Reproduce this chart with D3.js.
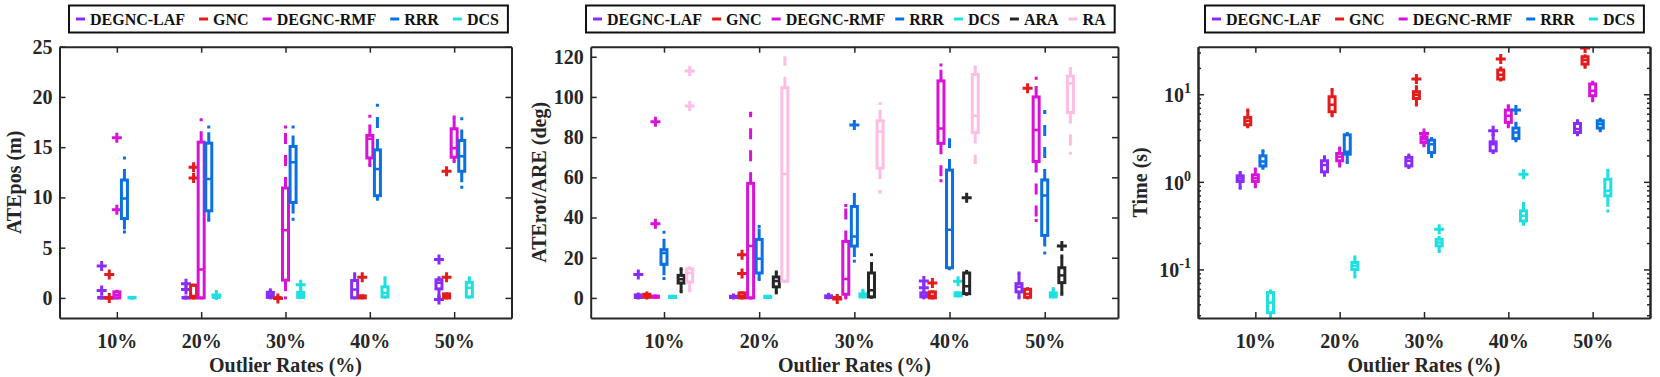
<!DOCTYPE html>
<html>
<head>
<meta charset="utf-8">
<script src="https://cdn.jsdelivr.net/npm/d3@7"></script>
<style>
  body { margin: 0; background: #fff; }
  svg { font-family: 'Liberation Serif', 'Times New Roman', serif; font-weight: bold; }
</style>
</head>
<body>
<svg id="fig" width="1660" height="377"></svg>
<script>
const rates = ['10%', '20%', '30%', '40%', '50%'];
const methods = ['DEGNC-LAF', 'GNC', 'DEGNC-RMF', 'RRR', 'DCS', 'ARA', 'RA'];

// box stats for each rate: [lower whisker, q1, median, q3, upper whisker]
// ATEpos (m)
const posLAF = [[0, 0, 0, 0.05, 0.1], [0, 0, 0, 0.05, 0.1], [0, 0.05, 0.3, 0.55, 0.8], [0, 0, 0.83, 1.73, 2.4], [0.05, 0.9, 1.5, 1.8, 2.0]];
const posGNC = [[0, 0, 0, 0.02, 0.05], [0, 0, 0.2, 1.27, 1.27], [0, 0, 0, 0.02, 0.05], [0, 0, 0.05, 0.2, 0.2], [0, 0, 0.2, 0.4, 0.4]];
const posRMF = [[0, 0, 0.3, 0.6, 0.67], [0, 0, 2.83, 15.5, 17.73], [0, 1.77, 6.73, 10.93, 17.0], [13.17, 13.93, 15.83, 16.17, 18.07], [13.57, 14, 14.9, 16.83, 18]];
const posRRR = [[6.57, 7.9, 9.9, 11.73, 13.93], [7.73, 8.67, 11.83, 15.4, 17.0], [7.83, 9.5, 13.5, 15.07, 17.0], [9.83, 10.17, 12.83, 14.73, 19.17], [11, 12.6, 14.1, 15.67, 17.83]];
const posDCS = [[0, 0, 0, 0.05, 0.05], [0, 0.05, 0.1, 0.2, 0.2], [0.05, 0.05, 0.3, 0.55, 1.0], [0.06, 0.1, 0.5, 1.1, 2.0], [0.06, 0.1, 1.0, 1.55, 2.0]];
const posLAFOut = [[3.17, 0.73], [1.4, 0.83], [], [], [3.83, -0.15]];
const posGNCOut = [[2.33, 0], [13.0, 11.93], [-0.05], [2.05], [2.05, 12.6]];
const posRMFOut = [[15.93, 8.77], [], [], [], []];
const posRRROut = [[], [], [], [], []];
const posDCSOut = [[], [0.3], [1.3], [], []];

// ATErot/ARE (deg)
const rotLAF = [[0, 0.2, 0.8, 1.5, 2], [0, 0.2, 0.5, 0.8, 1.5], [0, 0.2, 0.6, 1, 1.8], [0, 0.5, 1.2, 2.5, 3], [0, 3, 5.5, 7.1, 12.4]];
const rotGNC = [[0, 0.3, 1, 1.8, 2.5], [0, 0, 0.8, 2.5, 2.5], [0, 0, 0.1, 0.2, 0.3], [0, 0, 1, 3, 3], [0, 0.3, 2, 4.3, 4.6]];
const rotRMF = [[0.3, 0.3, 0.5, 0.9, 0.9], [0, 0, 25.8, 57, 91.9], [0, 1.8, 9.4, 28.1, 46], [58.3, 76.9, 84.3, 108, 115.9], [38.5, 67.9, 83.5, 100, 109.3]];
const rotRRR = [[9.6, 16.7, 22.3, 24, 32.7], [9.1, 12.4, 19.5, 29.1, 35.5], [18.3, 25.8, 30.6, 45.5, 51.4], [14.5, 15, 33.9, 63.6, 78.7], [22.3, 31.1, 50.9, 58.7, 92.7]];
const rotDCS = [[0.2, 0.2, 0.5, 0.8, 0.8], [0.2, 0.2, 0.5, 0.8, 0.8], [0.5, 0.5, 1.2, 2, 3.8], [1, 1, 1.5, 2.5, 2.5], [0.5, 0.5, 1.5, 2.5, 4.6]];
const rotARA = [[3, 7.4, 9.3, 11.2, 14.5], [2.5, 5.5, 8.4, 10.4, 12.9], [0.3, 0.5, 3.8, 12.4, 21.5], [1.8, 2.1, 5.8, 12.4, 13.2], [1.8, 7.6, 11.2, 15, 20.8]];
const rotRA = [[3.5, 7.9, 12.4, 14.5, 15], [8.3, 8.3, 61.7, 104.6, 119.5], [52.6, 64.6, 82.8, 88.1, 96.7], [67.4, 82.3, 90.6, 111.2, 114.9], [72, 92.2, 106.8, 110.4, 114.2]];
const rotLAFOut = [[11.7], [], [], [5.1, 8.4], []];
const rotGNCOut = [[], [12.1, 21.5], [-0.5], [7.4], [104.3]];
const rotRMFOut = [[87.6, 36.9], [], [], [], []];
const rotRRROut = [[], [], [86], [], []];
const rotDCSOut = [[], [], [], [8.3], []];
const rotARAOut = [[], [], [], [49.8], [25.8]];
const rotRAOut = [[95.5, 112.9], [], [], [], []];

// Time (s)
const timeLAF = [[0.846, 1.01, 1.09, 1.17, 1.28], [1.19, 1.30, 1.56, 1.74, 1.93], [1.46, 1.52, 1.74, 1.90, 2.03], [2.16, 2.26, 2.69, 2.86, 3.5], [3.44, 3.66, 4.0, 4.64, 4.98]];
const timeGNC = [[4.25, 4.48, 4.98, 5.44, 6.59], [5.68, 6.31, 7.59, 9.36, 11.3], [7.52, 8.96, 9.87, 10.7, 12.2], [14.5, 14.9, 16.7, 18.9, 19.9], [20.3, 22.1, 24.6, 26.8, 27.5]];
const timeRMF = [[0.877, 1.01, 1.10, 1.20, 1.40], [1.52, 1.74, 1.93, 2.11, 2.43], [2.58, 2.82, 3.07, 3.27, 3.35], [4.25, 4.77, 5.68, 6.59, 7.39], [8.43, 9.61, 10.96, 13.1, 13.7]];
const timeRRR = [[1.43, 1.52, 1.71, 1.98, 2.26], [1.66, 2.07, 2.2, 3.44, 3.57], [1.95, 2.16, 2.69, 2.99, 3.13], [2.94, 3.13, 3.66, 4.11, 4.68], [3.83, 4.11, 4.56, 4.98, 5.2]];
const timeDCS = [[0.0258, 0.0321, 0.0418, 0.0544, 0.0568], [0.082, 0.1, 0.11, 0.12, 0.139], [0.16, 0.186, 0.203, 0.221, 0.231], [0.328, 0.358, 0.409, 0.466, 0.565], [0.466, 0.692, 0.789, 1.07, 1.36]];
const timeLAFOut = [[], [], [], [3.83], []];
const timeGNCOut = [[], [], [14.9], [25.2], [33.7]];
const timeRMFOut = [[], [], [3.57], [], []];
const timeRRROut = [[], [], [], [6.59], []];
const timeDCSOut = [[], [], [0.288], [1.22], []];

const posTicks = [0, 5, 10, 15, 20, 25];
const rotTicks = [0, 20, 40, 60, 80, 100, 120];
const timeTicks = [0.1, 1, 10];
const timeTickLabels = ['-1', '0', '1'];

const colors = ['#8a2cf7', '#e31b1b', '#d912d9', '#0b70e2', '#1ee0e0', '#262626', '#ffbde4'];
const ink = '#262626';

const svg = d3.select('#fig');

function styleAxis(sel) {
    sel.select('.domain').attr('stroke', ink).attr('stroke-width', 2);
    sel.selectAll('.tick line').attr('stroke', ink).attr('stroke-width', 1.5);
    sel.selectAll('.tick text').attr('fill', ink).attr('font-size', 20)
        .attr('font-family', "'Liberation Serif', 'Times New Roman', serif").attr('font-weight', 'bold');
    sel.attr('font-family', null).attr('font-size', null);
}

function drawPanel(p) {
    let g = svg.append('g');
    let x = d3.scaleLinear().domain(p.xDomain).range([p.left, p.right]);
    let y = (p.log ? d3.scaleLog() : d3.scaleLinear()).domain(p.yDomain).range([p.bottom, p.top]);
    let n = p.series.length;
    let offsets = d3.range(n).map(i => (i - (n - 1) / 2) * 0.09);

    g.append('clipPath').attr('id', p.id + '-clip')
        .append('rect')
        .attr('x', p.left).attr('y', p.top)
        .attr('width', p.right - p.left).attr('height', p.bottom - p.top);

    let plot = g.append('g').attr('clip-path', `url(#${p.id}-clip)`);
    let bw = 6;

    p.series.forEach((stats, i) => {
        let col = colors[i];
        let sg = plot.append('g');
        stats.forEach((s, j) => {
            let cx = x(j + 1 + offsets[i]);
            let [lo, q1, med, q3, hi] = s;
            // whiskers
            if (hi > q3) {
                sg.append('line')
                    .attr('x1', cx).attr('x2', cx)
                    .attr('y1', y(q3)).attr('y2', y(hi))
                    .attr('stroke', col).attr('stroke-width', 3)
                    .attr('stroke-dasharray', '11,11');
            }
            if (lo < q1) {
                sg.append('line')
                    .attr('x1', cx).attr('x2', cx)
                    .attr('y1', y(q1)).attr('y2', y(lo))
                    .attr('stroke', col).attr('stroke-width', 3)
                    .attr('stroke-dasharray', '11,11');
            }
            [lo, hi].forEach(v => {
                sg.append('line')
                    .attr('x1', cx - 1.5).attr('x2', cx + 1.5)
                    .attr('y1', y(v)).attr('y2', y(v))
                    .attr('stroke', col).attr('stroke-width', 3);
            });
            sg.append('rect')
                .attr('x', cx - bw / 2).attr('y', y(q3))
                .attr('width', bw).attr('height', Math.max(0, y(q1) - y(q3)))
                .attr('fill', 'none').attr('stroke', col).attr('stroke-width', 3);
            sg.append('line')
                .attr('x1', cx - bw / 2).attr('x2', cx + bw / 2)
                .attr('y1', y(med)).attr('y2', y(med))
                .attr('stroke', col).attr('stroke-width', 2.5);
            // outliers
            p.outliers[i][j].forEach(v => {
                let py = y(v);
                sg.append('path')
                    .attr('d', `M${cx - 5},${py}H${cx + 5}M${cx},${py - 5}V${py + 5}`)
                    .attr('stroke', col).attr('stroke-width', 3).attr('fill', 'none');
            });
        });
    });

    // axes (ticks inward on all four sides)
    let xb = g.append('g').attr('transform', `translate(0,${p.bottom})`)
        .call(d3.axisBottom(x).tickValues([1, 2, 3, 4, 5]).tickSizeInner(-6).tickSizeOuter(0)
            .tickPadding(16).tickFormat((d, i) => rates[i]));
    styleAxis(xb);
    let xt = g.append('g').attr('transform', `translate(0,${p.top})`)
        .call(d3.axisTop(x).tickValues([1, 2, 3, 4, 5]).tickSizeInner(-6).tickSizeOuter(0).tickFormat(''));
    styleAxis(xt);

    let yl = g.append('g').attr('transform', `translate(${p.left},0)`)
        .call(d3.axisLeft(y).tickValues(p.yTicks).tickSizeInner(-6).tickSizeOuter(0).tickPadding(7)
            .tickFormat(p.log ? '' : d3.format('d')));
    styleAxis(yl);
    let yr = g.append('g').attr('transform', `translate(${p.right},0)`)
        .call(d3.axisRight(y).tickValues(p.yTicks).tickSizeInner(-6).tickSizeOuter(0).tickFormat(''));
    styleAxis(yr);

    if (p.log) {
        let minor = [];
        [0.01, 0.1, 1, 10].forEach(d => {
            for (let k = 2; k <= 9; k++) {
                let v = d * k;
                if (v > p.yDomain[0] && v < p.yDomain[1]) minor.push(v);
            }
        });
        let ml = g.append('g').attr('transform', `translate(${p.left},0)`)
            .call(d3.axisLeft(y).tickValues(minor).tickSizeInner(-3).tickSizeOuter(0).tickFormat(''));
        styleAxis(ml);
        let mr = g.append('g').attr('transform', `translate(${p.right},0)`)
            .call(d3.axisRight(y).tickValues(minor).tickSizeInner(-3).tickSizeOuter(0).tickFormat(''));
        styleAxis(mr);

        p.yTicks.forEach((v, i) => {
            let t = g.append('text')
                .attr('x', p.left - 7).attr('y', y(v) + 8)
                .attr('text-anchor', 'end').attr('fill', ink).attr('font-size', 20);
            t.append('tspan').text('10');
            t.append('tspan').attr('dy', -9).attr('font-size', 14).text(timeTickLabels[i]);
        });
    }

    // axis labels
    g.append('text')
        .attr('x', (p.left + p.right) / 2).attr('y', 372)
        .attr('text-anchor', 'middle').attr('fill', ink).attr('font-size', 20)
        .text('Outlier Rates (%)');
    g.append('text')
        .attr('transform', `translate(${p.labelX},${(p.top + p.bottom) / 2}) rotate(-90)`)
        .attr('text-anchor', 'middle').attr('dy', '0.35em')
        .attr('fill', ink).attr('font-size', 20)
        .text(p.yLabel);

    // legend
    let lg = g.append('g');
    let box = lg.append('rect')
        .attr('y', 5.5).attr('height', 27)
        .attr('fill', '#fff').attr('stroke', '#111').attr('stroke-width', 2);
    let cur = p.legendLeft + 7;
    p.series.forEach((s, i) => {
        lg.append('line')
            .attr('x1', cur).attr('x2', cur + 9)
            .attr('y1', 19).attr('y2', 19)
            .attr('stroke', colors[i]).attr('stroke-width', 3);
        let t = lg.append('text')
            .attr('x', cur + 14).attr('y', 24.5)
            .attr('fill', '#111').attr('font-size', 16)
            .text(methods[i]);
        cur += 14 + t.node().getComputedTextLength();
        if (i < n - 1) cur += p.legendGap;
    });
    box.attr('x', p.legendLeft).attr('width', cur + 9 - p.legendLeft);
}

drawPanel({
    id: 'pos', left: 59.5, right: 511.5, top: 46.7, bottom: 318,
    xDomain: [0.32, 5.68], yDomain: [-2, 25], yTicks: posTicks, log: false,
    series: [posLAF, posGNC, posRMF, posRRR, posDCS],
    outliers: [posLAFOut, posGNCOut, posRMFOut, posRRROut, posDCSOut],
    yLabel: 'ATEpos (m)', labelX: 14, legendLeft: 69, legendGap: 14
});

drawPanel({
    id: 'rot', left: 590.7, right: 1118, top: 46.7, bottom: 318,
    xDomain: [0.23, 5.77], yDomain: [-10, 125], yTicks: rotTicks, log: false,
    series: [rotLAF, rotGNC, rotRMF, rotRRR, rotDCS, rotARA, rotRA],
    outliers: [rotLAFOut, rotGNCOut, rotRMFOut, rotRRROut, rotDCSOut, rotARAOut, rotRAOut],
    yLabel: 'ATErot/ARE (deg)', labelX: 539, legendLeft: 586, legendGap: 10
});

drawPanel({
    id: 'time', left: 1198, right: 1650, top: 46.7, bottom: 318,
    xDomain: [0.32, 5.68], yDomain: [0.0279, 34.9], yTicks: timeTicks, log: true,
    series: [timeLAF, timeGNC, timeRMF, timeRRR, timeDCS],
    outliers: [timeLAFOut, timeGNCOut, timeRMFOut, timeRRROut, timeDCSOut],
    yLabel: 'Time (s)', labelX: 1140, legendLeft: 1205, legendGap: 14
});
</script>
</body>
</html>
